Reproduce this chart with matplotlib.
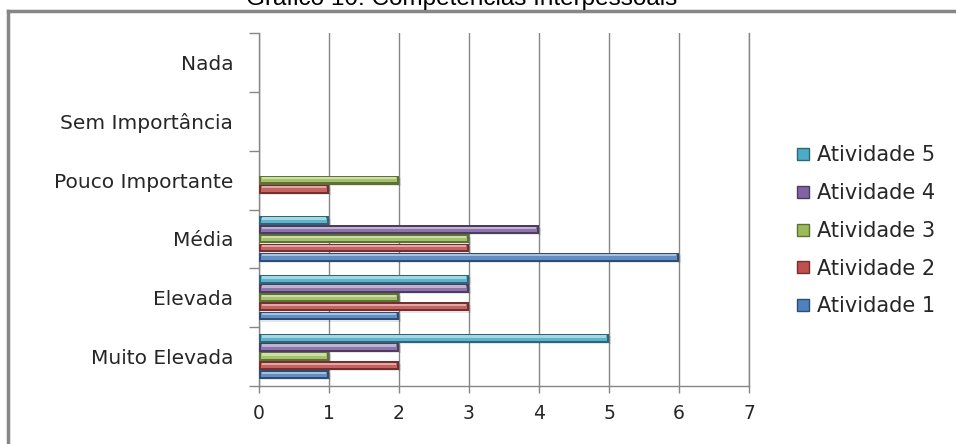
import matplotlib
matplotlib.use("Agg")
import matplotlib.pyplot as plt
import numpy as np
from matplotlib.colors import to_rgb
from matplotlib.lines import Line2D

categories = ["Muito Elevada", "Elevada", "Média", "Pouco Importante",
              "Sem Importância", "Nada"]
series_names = ["Atividade 1", "Atividade 2", "Atividade 3", "Atividade 4", "Atividade 5"]
atividade_1 = [1, 2, 6, 0, 0, 0]
atividade_2 = [2, 3, 3, 1, 0, 0]
atividade_3 = [1, 2, 3, 2, 0, 0]
atividade_4 = [2, 3, 4, 0, 0, 0]
atividade_5 = [5, 3, 1, 0, 0, 0]
series = [atividade_1, atividade_2, atividade_3, atividade_4, atividade_5]
colors = ["#4F81BD", "#C0504D", "#9BBB59", "#8064A2", "#4BACC6"]
title = "Gráfico 10: Competências Interpessoais"


def shade(c, f):
    r = np.array(to_rgb(c))
    return tuple(r * f) if f < 1 else tuple(r + (1 - r) * (f - 1))


fig = plt.figure(figsize=(9.56, 4.44), dpi=100)
ax = fig.add_axes([0.2709, 0.1306, 0.5126, 0.7951])

label_font = "DejaVu Sans"
n = len(series)
bh = 0.155
y0 = np.arange(len(categories))
for i, (vals, c) in enumerate(zip(series, colors)):
    y = y0 + (i - (n - 1) / 2) * bh
    vals = np.array(vals, dtype=float)
    inset = 0.03 * (vals > 0)
    # shadow, dark body, base colour and a light top strip give the bevelled bars
    ax.barh(y - 0.03, vals, height=bh * 0.85, left=0.03, color="#000000", alpha=0.10,
            linewidth=0, zorder=2)
    ax.barh(y, vals, height=bh * 0.97, color=shade(c, 0.6), linewidth=0, zorder=3)
    ax.barh(y + bh * 0.04, vals - 2 * inset, height=bh * 0.6, left=inset,
            color=shade(c, 1.1), linewidth=0, zorder=4)
    ax.barh(y + bh * 0.22, vals - 3 * inset, height=bh * 0.26, left=1.5 * inset,
            color=shade(c, 1.5), linewidth=0, zorder=5)

ax.set_xlim(0, 7)
ax.set_ylim(-0.5, len(categories) - 0.5)
ax.set_xticks(range(8))
ax.set_yticks(y0)
ax.set_yticklabels(categories, fontname=label_font, fontsize=14.5, color="#262626")
ax.set_xticklabels([str(v) for v in range(8)], fontname=label_font, fontsize=13.5,
                   color="#262626")
ax.set_yticks(np.arange(-0.5, len(categories), 1), minor=True)
ax.tick_params(axis="y", which="major", length=0, pad=18.5)
ax.tick_params(axis="y", which="minor", length=7.5, color="#868686", width=1)
ax.tick_params(axis="x", length=5, color="#868686", width=1, pad=8)
ax.xaxis.grid(True, color="#868686", linewidth=1, zorder=0)
ax.axvline(7, color="#868686", linewidth=1, zorder=0, clip_on=False)
ax.set_axisbelow(True)
for s in ("top", "right"):
    ax.spines[s].set_visible(False)
for s in ("left", "bottom"):
    ax.spines[s].set_color("#868686")
    ax.spines[s].set_linewidth(1)

handles = [Line2D([], [], marker="s", linestyle="none", markersize=8.5,
                  markerfacecolor=c, markeredgecolor=shade(c, 0.6))
           for c in colors][::-1]
fig.legend(handles, series_names[::-1], loc="center left",
           bbox_to_anchor=(0.831, 0.48), frameon=False, handletextpad=0.3,
           labelspacing=0.85, prop={"family": label_font, "size": 15},
           labelcolor="#262626", handlelength=0.8, borderaxespad=0, borderpad=0)

# outer chart frame
fig.add_artist(Line2D([8 / 956, 1], [1 - 11 / 444] * 2, color="#868686", lw=2.5,
                      transform=fig.transFigure))
fig.add_artist(Line2D([8 / 956] * 2, [0, 1 - 11 / 444], color="#868686", lw=2.5,
                      transform=fig.transFigure))
fig.text(462 / 956, 1 - 4.5 / 444, title, ha="center", va="baseline",
         fontname="Liberation Sans", fontsize=17.5, color="#000000")

fig.savefig("out.png", dpi=100)
